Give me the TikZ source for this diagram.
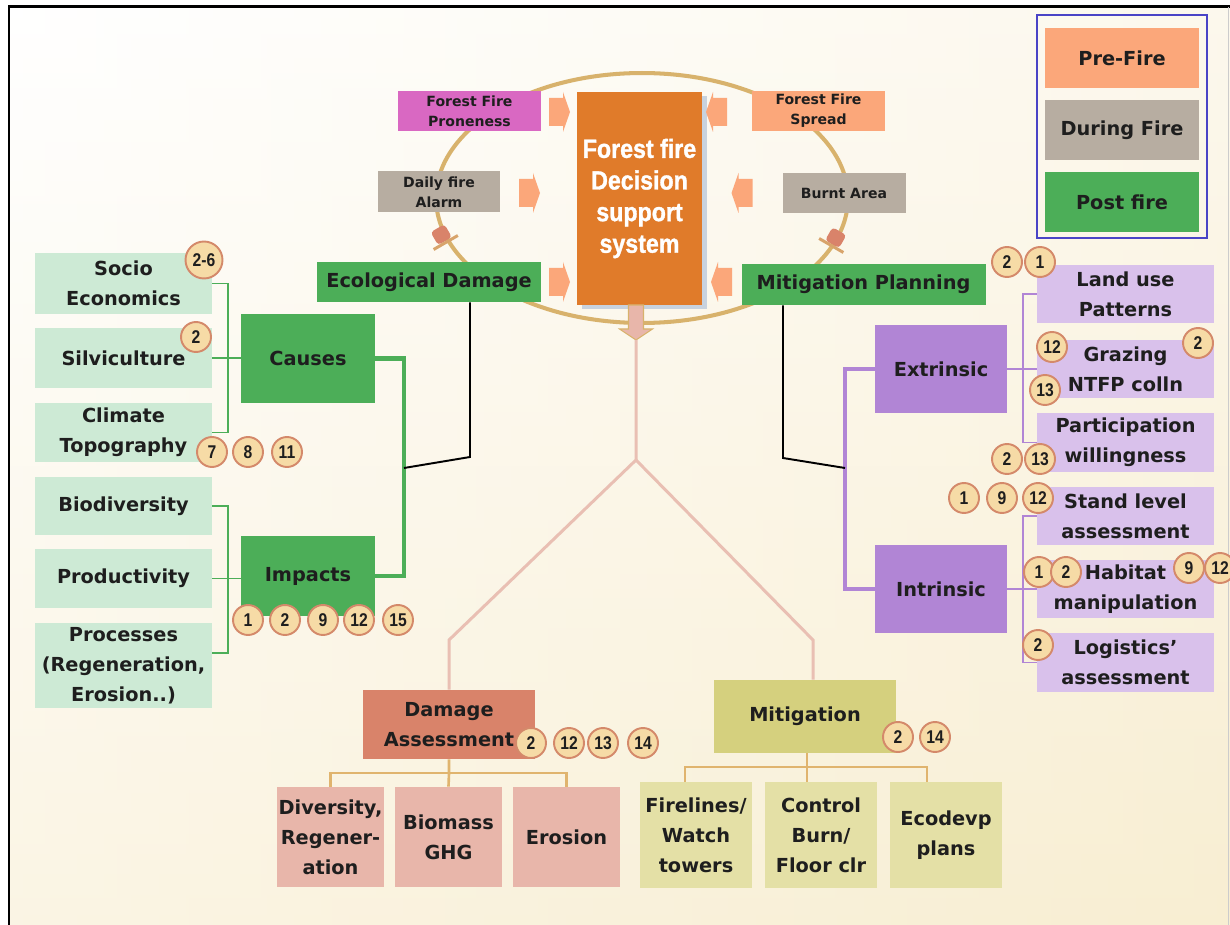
\documentclass[tikz,border=0pt]{standalone}
\usepackage{fontspec}
\setmainfont{DejaVu Sans}
\newfontfamily\dssfont[FakeStretch=0.88,FakeBold=1.2]{Liberation Sans}
\newfontfamily\numfont[FakeStretch=0.85]{Liberation Sans}
\usetikzlibrary{shadows}
\definecolor{ink}{HTML}{1E1E1E}
\definecolor{cream}{HTML}{F8EED2}
\definecolor{preorange}{HTML}{FBA77A}
\definecolor{duringgray}{HTML}{B7ADA1}
\definecolor{postgreen}{HTML}{4CAE58}
\definecolor{mint}{HTML}{CDEAD5}
\definecolor{lilac}{HTML}{D9C1EB}
\definecolor{extrviolet}{HTML}{B185D5}
\definecolor{coreorange}{HTML}{E07B2A}
\definecolor{pronepink}{HTML}{D968C2}
\definecolor{terra}{HTML}{D9836A}
\definecolor{blush}{HTML}{E8B6AA}
\definecolor{mitolive}{HTML}{D5D07E}
\definecolor{paleolive}{HTML}{E4E0A6}
\definecolor{ringtan}{HTML}{D8B26C}
\definecolor{badgefill}{HTML}{F6DBA6}
\definecolor{badgeedge}{HTML}{D4896A}
\definecolor{stempink}{HTML}{E9BFB3}
\definecolor{treetan}{HTML}{E0B46E}
\definecolor{keyblue}{HTML}{4A44C6}
\definecolor{shadowblue}{HTML}{C8D2DE}

\begin{document}
\begin{tikzpicture}[x=0.02cm,y=-0.02cm,
  wh/.style 2 args={minimum width=#1*0.02cm,minimum height=#2*0.02cm},
  label box/.style={rectangle,inner sep=0pt,align=center,text=ink,font=\fontsize{11}{17}\selectfont\bfseries},
  small box/.style={label box,font=\fontsize{8}{11.3}\selectfont\bfseries},
  badge/.style={circle,draw=badgeedge,fill=badgefill,line width=1.1pt,minimum size=0.6cm,inner sep=0pt,text=ink,font=\numfont\fontsize{10.5}{11}\selectfont\bfseries},
  feed/.pic={\fill[preorange] (-10.5,-14) -- (3.5,-14) -- (3.5,-20) -- (10.5,0) -- (3.5,20) -- (3.5,14) -- (-10.5,14) -- cycle;},
  ring mark/.pic={\fill[terra,rounded corners=2pt] (-8,-9) rectangle (8,6); \fill[ringtan!70!terra] (-14,6) rectangle (14,9);},
  down arrow/.pic={\filldraw[fill=blush,draw=ringtan,line width=0.6pt] (-7.5,-17) -- (7.5,-17) -- (7.5,7) -- (16.5,7) -- (0,18) -- (-16.5,7) -- (-7.5,7) -- cycle;},
  link/.style={line width=1.1pt},
  trunk/.style={line width=2.8pt},
  tree/.style={line width=1.5pt,treetan}]
\useasboundingbox (0,0) rectangle (1230,925);
\shade[left color=white,right color=cream] (9,7) rectangle (1230,925);
\shade[top color=white,bottom color=cream,opacity=0.6] (9,7) rectangle (1230,925);
\draw[line width=1.7pt] (9,925) -- (9,7) -- (1230,7);
\draw[line width=0.6pt,gray!40] (1228.5,7) -- (1228.5,925);

\draw[keyblue,line width=0.9pt] (1037,15) rectangle (1207,238);
\node[label box,wh={154}{60},fill=preorange] (pre) at (1122,58) {Pre-Fire};
\node[label box,wh={154}{60},fill=duringgray] (during) at (1122,130) {During Fire};
\node[label box,wh={154}{60},fill=postgreen] (post) at (1122,202) {Post fire};

\draw[ringtan,line width=2.3pt] (642,198) ellipse [x radius=4.12cm,y radius=2.5cm];
\pic[rotate=30] (r1) at (442,236) {ring mark};
\pic[rotate=-30] (r2) at (835,239) {ring mark};

\node[rectangle,wh={121}{213},fill=coreorange,align=center,text=white,
  font=\dssfont\fontsize{15}{18}\selectfont\bfseries,
  drop shadow={shadow xshift=3pt,shadow yshift=-2pt,fill=shadowblue,opacity=1}]
  (dss) at (639.5,198.5) {Forest fire\\Decision\\support\\system};

\node[small box,wh={143}{40},fill=pronepink] (prone) at (469.5,111) {Forest Fire\\Proneness};
\node[small box,wh={133}{40},fill=preorange] (spread) at (818.5,111) {Forest Fire\\Spread};
\node[small box,wh={122}{41},fill=duringgray] (alarm) at (439,192) {Daily fire\\Alarm};
\node[small box,wh={123}{40},fill=duringgray] (burnt) at (844,193) {Burnt Area};
\node[label box,wh={224}{40},fill=postgreen] (eco) at (429,282) {Ecological Damage};
\node[label box,wh={244}{41},fill=postgreen] (mplan) at (863.5,284.5) {Mitigation Planning};

\pic (f1) at (559.5,112) {feed};
\pic (f2) at (529.5,193) {feed};
\pic (f3) at (559.5,282) {feed};
\pic[rotate=180] (f4) at (716.5,112) {feed};
\pic[rotate=180] (f5) at (742,193) {feed};
\pic[rotate=180] (f6) at (721.5,282) {feed};

\pic (down) at (636,322) {down arrow};
\coordinate (downtip) at (636,340);

\node[label box,wh={177}{61},fill=mint] (socio) at (123.5,283.5) {Socio\\Economics};
\node[label box,wh={177}{60},fill=mint] (silvi) at (123.5,358) {Silviculture};
\node[label box,wh={177}{59},fill=mint] (clim) at (123.5,432.5) {Climate\\Topography};
\node[label box,wh={177}{58},fill=mint] (bio) at (123.5,506) {Biodiversity};
\node[label box,wh={177}{59},fill=mint] (prod) at (123.5,578.5) {Productivity};
\node[label box,wh={177}{85},fill=mint] (proc) at (123.5,665.5) {Processes\\(Regeneration,\\Erosion..)};
\node[label box,wh={134}{89},fill=postgreen] (causes) at (308,358.5) {Causes};
\node[label box,wh={134}{80},fill=postgreen] (impacts) at (308,576) {Impacts};

\node[label box,wh={177}{58},fill=lilac] (land) at (1125.5,294) {Land use\\Patterns};
\node[label box,wh={177}{58},fill=lilac] (graz) at (1125.5,369) {Grazing\\NTFP colln};
\node[label box,wh={177}{59},fill=lilac] (part) at (1125.5,442.5) {Participation\\willingness};
\node[label box,wh={177}{58},fill=lilac] (stand) at (1125.5,516) {Stand level\\assessment};
\node[label box,wh={177}{58},fill=lilac] (habit) at (1125.5,589) {Habitat\\manipulation};
\node[label box,wh={177}{59},fill=lilac] (logi) at (1125.5,662.5) {Logistics’\\assessment};
\node[label box,wh={132}{88},fill=extrviolet] (extr) at (941,369) {Extrinsic};
\node[label box,wh={132}{88},fill=extrviolet] (intr) at (941,589) {Intrinsic};

\node[label box,wh={172}{69},fill=terra] (dmg) at (449,724.5) {Damage\\Assessment};
\node[label box,wh={107}{100},fill=blush] (divers) at (330.5,837) {Diversity,\\Regener-\\ation};
\node[label box,wh={107}{100},fill=blush] (biom) at (448.5,837) {Biomass\\GHG};
\node[label box,wh={107}{100},fill=blush] (eros) at (566.5,837) {Erosion};
\node[label box,wh={182}{73},fill=mitolive] (mitig) at (805,716.5) {Mitigation};
\node[label box,wh={112}{106},fill=paleolive] (fire) at (696,835) {Firelines/\\Watch\\towers};
\node[label box,wh={112}{106},fill=paleolive] (ctrl) at (821,835) {Control\\Burn/\\Floor clr};
\node[label box,wh={112}{106},fill=paleolive] (ecod) at (946,835) {Ecodevp\\plans};

\coordinate (gc) at (228,432.5);
\coordinate (gi) at (228,653);
\coordinate (gb) at (404,468);
\coordinate (eb) at (470,457);
\draw[link,postgreen] (socio.east) -| (gc) -- (clim.east);
\draw[link,postgreen] (silvi.east) -- (silvi.east -| causes.west);
\draw[link,postgreen] (bio.east) -| (gi) -- (gi -| proc.east);
\draw[link,postgreen] (prod.east) -- (prod.east -| impacts.west);
\draw[trunk,postgreen] (causes.east) -| (gb) |- (impacts.east);
\draw[link,black] (eb |- eco.south) -- (eb) -- (gb);

\coordinate (pe) at (1023,442.5);
\coordinate (pq) at (1023,662.5);
\coordinate (pb) at (845,468);
\coordinate (mb) at (783,458);
\draw[link,extrviolet] (land.west) -| (pe) -- (part.west);
\draw[link,extrviolet] (extr.east) -- (graz.west);
\draw[link,extrviolet] (stand.west) -| (pq) -- (logi.west);
\draw[link,extrviolet] (intr.east) -- (habit.west);
\draw[trunk,extrviolet] (extr.west) -| (pb) |- (intr.west);
\draw[link,black] (mb |- mplan.south) -- (mb) -- (pb);

\coordinate (fork) at (636,460);
\coordinate (fl) at (449,640);
\coordinate (fr) at (813,640);
\draw[stempink,line width=1.7pt] (downtip) -- (fork) -- (fl) -- (dmg.north);
\draw[stempink,line width=1.7pt] (fork) -- (fr) -- (fr |- mitig.north);

\coordinate (dh) at (449,773);
\coordinate (mh) at (807,767);
\coordinate (m1) at (685,767);
\coordinate (m3) at (927,767);
\draw[tree] (dmg.south) -- (dh) -- (biom.north);
\draw[tree] (divers.north) |- (dh) -| (eros.north);
\draw[tree] (mh |- mitig.south) -- (mh |- ctrl.north);
\draw[tree] (m1 |- fire.north) -- (m1) -- (m3) -- (m3 |- ecod.north);

\node[badge,minimum size=0.74cm] (n0) at (204,260) {2-6};
\foreach \x/\y/\t [count=\i] in {196/337/2,212/452/7,248/452/8,287/452/11,
    248/620/1,285/620/2,323/620/9,359/620/12,398/620/15,
    1007/262/2,1040/262/1,1052/347/12,1198/343/2,1045/390/13,
    1007/459/2,1040/459/13,964/498/1,1002/498/9,1038/498/12,
    1039/572/1,1066/572/2,1189/568/9,1220/568/12,1038/645/2,
    531/743/2,569/743/12,603/743/13,643/743/14,898/737/2,935/737/14}
  \node[badge] (n\i) at (\x,\y) {\t};
\end{tikzpicture}
\end{document}
